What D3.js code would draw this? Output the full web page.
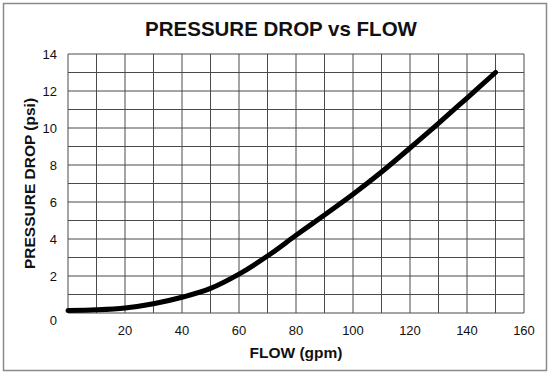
<!DOCTYPE html>
<html>
<head>
<meta charset="utf-8">
<script src="https://cdn.jsdelivr.net/npm/d3@7"></script>
<style>
  body { margin: 0; background: #fff; }
  text { font-family: "Liberation Sans", Arial, sans-serif; fill: #111; }
</style>
</head>
<body>
<svg id="chart" width="550" height="374"></svg>
<script>
// data
var flow = [0, 10, 20, 30, 40, 50, 60, 70, 80, 90, 100, 110, 120, 130, 140, 150];
var pressureDrop = [0.13, 0.17, 0.27, 0.5, 0.85, 1.33, 2.1, 3.08, 4.2, 5.3, 6.42, 7.62, 8.92, 10.25, 11.62, 13.0];
var xTicks = [20, 40, 60, 80, 100, 120, 140, 160];
var yTicks = [0, 2, 4, 6, 8, 10, 12, 14];

var svg = d3.select('#chart');
var margin = {left: 68, top: 54, right: 524, bottom: 313};

var x = d3.scaleLinear().domain([0, 160]).range([margin.left, margin.right]);
var y = d3.scaleLinear().domain([0, 14]).range([margin.bottom, margin.top]);

//Outer frame
svg.append('rect')
  .attr('x', 3.5).attr('y', 3.5)
  .attr('width', 543).attr('height', 367)
  .attr('fill', 'none')
  .attr('stroke', '#8a8a8a')
  .attr('stroke-width', 1.5);

//Title
svg.append('text')
  .attr('x', 281).attr('y', 36)
  .attr('text-anchor', 'middle')
  .attr('font-size', '20.5px')
  .attr('font-weight', 'bold')
  .text('PRESSURE DROP vs FLOW');

//Grid, every 10 gpm and every 1 psi
var grid = svg.append('g');
grid.selectAll('.vline')
  .data(d3.range(0, 161, 10))
  .enter().append('line')
  .attr('x1', function(d) { return x(d); })
  .attr('x2', function(d) { return x(d); })
  .attr('y1', y(0)).attr('y2', y(14))
  .attr('stroke', '#4a4a4a')
  .attr('stroke-width', 1);
grid.selectAll('.hline')
  .data(d3.range(0, 15, 1))
  .enter().append('line')
  .attr('y1', function(d) { return y(d); })
  .attr('y2', function(d) { return y(d); })
  .attr('x1', x(0)).attr('x2', x(160))
  .attr('stroke', '#4a4a4a')
  .attr('stroke-width', 1);

//Y tick labels (0 sits a bit lower, as in the original)
svg.append('g').selectAll('text')
  .data(yTicks)
  .enter().append('text')
  .attr('x', 57)
  .attr('y', function(d) { return y(d) + (d === 0 ? 12 : 5); })
  .attr('text-anchor', 'end')
  .attr('font-size', '13px')
  .text(function(d) { return d; });

//X tick labels
svg.append('g').selectAll('text')
  .data(xTicks)
  .enter().append('text')
  .attr('x', function(d) { return x(d); })
  .attr('y', 335)
  .attr('text-anchor', 'middle')
  .attr('font-size', '13px')
  .text(function(d) { return d; });

//Axis titles
svg.append('text')
  .attr('x', 296).attr('y', 358)
  .attr('text-anchor', 'middle')
  .attr('font-size', '15.5px')
  .attr('font-weight', 'bold')
  .text('FLOW (gpm)');

svg.append('text')
  .attr('transform', 'translate(35,' + ((margin.top + margin.bottom) / 2) + ') rotate(-90)')
  .attr('text-anchor', 'middle')
  .attr('font-size', '15.5px')
  .attr('font-weight', 'bold')
  .text('PRESSURE DROP (psi)');

//Curve
var line = d3.line()
  .x(function(d, i) { return x(flow[i]); })
  .y(function(d) { return y(d); })
  .curve(d3.curveCatmullRom.alpha(0.5));

svg.append('path')
  .datum(pressureDrop)
  .attr('d', line)
  .attr('fill', 'none')
  .attr('stroke', '#000')
  .attr('stroke-width', 5)
  .attr('stroke-linecap', 'round');
</script>
</body>
</html>
